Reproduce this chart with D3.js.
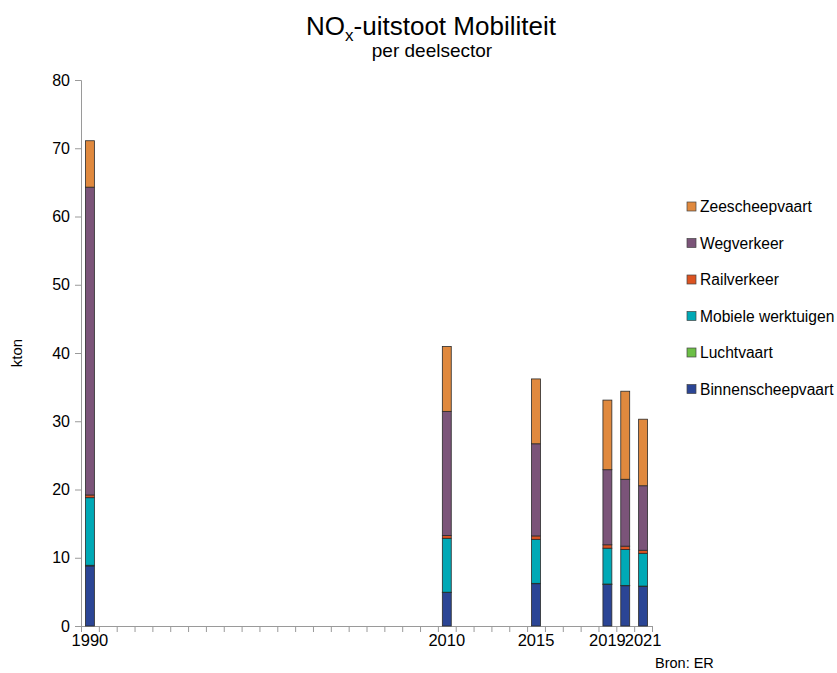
<!DOCTYPE html>
<html>
<head>
<meta charset="utf-8">
<script src="https://cdn.jsdelivr.net/npm/d3@7"></script>
<style>
  body { margin: 0; background: #fff; }
  text { font-family: "Liberation Sans", Arial, sans-serif; fill: #000; }
</style>
</head>
<body>
<script>
// categories on the axis (every year), only some have data
var firstYear = 1990, lastYear = 2021
var dataYears = [1990, 2010, 2015, 2019, 2020, 2021]
var tickLabels = [1990, 2010, 2015, 2019, 2021]

// kton per deelsector, bottom to top
var binnenscheepvaart = [8.8, 4.9, 6.2, 6.1, 5.9, 5.8]
var luchtvaart        = [0.1, 0.05, 0.05, 0.05, 0.05, 0.05]
var mobiele           = [9.9, 7.9, 6.45, 5.25, 5.25, 4.8]
var railverkeer       = [0.4, 0.4, 0.5, 0.5, 0.5, 0.45]
var wegverkeer        = [45.1, 18.2, 13.5, 11.0, 9.8, 9.45]
var zeescheepvaart    = [6.8, 9.5, 9.5, 10.2, 12.9, 9.75]

var keys = ["Binnenscheepvaart", "Luchtvaart", "Mobiele werktuigen", "Railverkeer", "Wegverkeer", "Zeescheepvaart"]
var colors = ["#2b4595", "#6cbf46", "#00a9b6", "#dc5321", "#7b5479", "#e0893e"]
var yTicks = [0, 10, 20, 30, 40, 50, 60, 70, 80]

var rows = dataYears.map(function(y, i) {
  return {
    year: y,
    "Binnenscheepvaart": binnenscheepvaart[i],
    "Luchtvaart": luchtvaart[i],
    "Mobiele werktuigen": mobiele[i],
    "Railverkeer": railverkeer[i],
    "Wegverkeer": wegverkeer[i],
    "Zeescheepvaart": zeescheepvaart[i]
  }
})

var screen = {width: 837, height: 673}
var plot = {left: 81, right: 652, top: 80, bottom: 626}

var svg = d3.select("body").append("svg")
  .attr("width", screen.width)
  .attr("height", screen.height)

var allYears = d3.range(firstYear, lastYear + 1)
var xScale = d3.scaleBand()
  .domain(allYears)
  .range([plot.left, plot.right])
  .padding(0)
var xEdges = d3.scaleLinear()
  .domain([firstYear - 0.5, lastYear + 0.5])
  .range([plot.left, plot.right])
var yScale = d3.scaleLinear()
  .domain([0, 80])
  .range([plot.bottom, plot.top])
var cScale = d3.scaleOrdinal().domain(keys).range(colors)

// title
var title = svg.append("text")
  .attr("x", 431).attr("y", 35)
  .attr("text-anchor", "middle")
  .style("font-size", "26px")
title.append("tspan").text("NO")
title.append("tspan").attr("dy", 6).style("font-size", "17px").text("x")
title.append("tspan").attr("dy", -6).text("-uitstoot Mobiliteit")
svg.append("text")
  .attr("x", 432).attr("y", 57)
  .attr("text-anchor", "middle")
  .style("font-size", "19px")
  .text("per deelsector")

// y axis
var yAxis = svg.append("g")
  .attr("transform", "translate(" + plot.left + ",0)")
  .call(d3.axisLeft(yScale).tickValues(yTicks).tickSize(6).tickPadding(5))
yAxis.select(".domain").attr("stroke", "#9a9a9a")
yAxis.selectAll(".tick line").attr("stroke", "#9a9a9a")
yAxis.selectAll("text").style("font-size", "16px").attr("fill", "#000")

svg.append("text")
  .attr("transform", "translate(22," + ((plot.top + plot.bottom) / 2) + ") rotate(-90)")
  .attr("text-anchor", "middle")
  .style("font-size", "15px")
  .text("kton")

// x axis: tick marks between categories, labels on selected years
var xTicks = svg.append("g")
  .attr("transform", "translate(0," + plot.bottom + ")")
  .call(d3.axisBottom(xEdges).tickValues(d3.range(firstYear - 0.5, lastYear + 1, 1)).tickSize(6).tickFormat(""))
xTicks.select(".domain").attr("stroke", "#9a9a9a")
xTicks.selectAll(".tick line").attr("stroke", "#9a9a9a")

var xLabels = svg.append("g")
  .attr("transform", "translate(0," + plot.bottom + ")")
  .call(d3.axisBottom(xScale).tickValues(tickLabels).tickSize(0).tickPadding(8))
xLabels.select(".domain").remove()
xLabels.selectAll("text").style("font-size", "16.5px").attr("fill", "#000")

// stacked bars
var stacked = d3.stack().keys(keys)(rows)
var barW = xScale.bandwidth() * 0.5

svg.append("g").selectAll("g")
  .data(stacked)
  .enter().append("g")
  .attr("fill", function(d) { return cScale(d.key) })
  .selectAll("rect")
  .data(function(d) { return d })
  .enter().append("rect")
  .attr("x", function(d) { return xScale(d.data.year) + (xScale.bandwidth() - barW) / 2 })
  .attr("y", function(d) { return yScale(d[1]) })
  .attr("width", barW)
  .attr("height", function(d) { return yScale(d[0]) - yScale(d[1]) })
  .attr("stroke", "#2a2a2a")
  .attr("stroke-width", 0.8)

// legend, top entry is the top of the stack
var legend = svg.append("g")
var items = legend.selectAll("g")
  .data(keys.slice().reverse())
  .enter().append("g")
  .attr("transform", function(d, i) { return "translate(687," + (202 + i * 36.5) + ")" })
items.append("rect")
  .attr("width", 9).attr("height", 9)
  .attr("fill", function(d) { return cScale(d) })
  .attr("stroke", "#444").attr("stroke-width", 0.7)
items.append("text")
  .attr("x", 13).attr("y", 10)
  .style("font-size", "15.6px")
  .text(function(d) { return d })

svg.append("text")
  .attr("x", 655).attr("y", 668)
  .style("font-size", "14.5px")
  .text("Bron: ER")
</script>
</body>
</html>
